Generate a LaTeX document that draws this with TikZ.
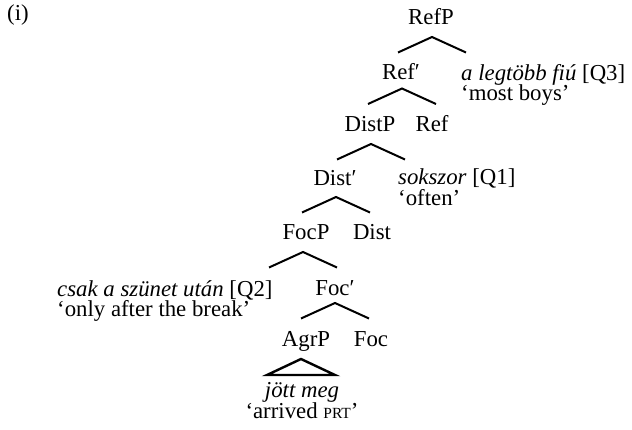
\documentclass[tikz,border=0pt]{standalone}
\usepackage{fontspec}
\setmainfont{Liberation Serif}
\usetikzlibrary{calc}
\tikzset{
  txt/.style={inner sep=0pt, font=\fontsize{22.8}{18}\selectfont},
  lbl/.style={txt, anchor=base},
  gloss/.style={txt, anchor=base west},
  branch/.style={line width=2pt},
  tri/.style={line width=2.4pt, line join=miter},
}
\newcommand{\smc}[1]{{\fontsize{15.5}{15.5}\selectfont #1}}
\begin{document}
\begin{tikzpicture}[x=1pt,y=-1pt]
\useasboundingbox[fill=white] (0,0) rectangle (632,430);
% labels
\node[gloss] (ex) at (7,21) {(i)};
\node[lbl] (refp) at (431,25) {RefP};
\node[lbl] (refbar) at (401,80) {Ref′};
\node[gloss] (q3) at (461,80.5) {\textit{a legtöbb fiú} [Q3]};
\node[gloss] (q3g) at (461,101) {‘most boys’};
\node[lbl] (distp) at (370,132) {DistP};
\node[lbl] (ref) at (432,132) {Ref};
\node[lbl] (distbar) at (335,185.5) {Dist′};
\node[gloss] (q1) at (398,185) {\textit{sokszor} [Q1]};
\node[gloss] (q1g) at (398,205.5) {‘often’};
\node[lbl] (focp) at (306,240) {FocP};
\node[lbl] (dist) at (372,240) {Dist};
\node[gloss] (q2) at (57,296.5) {\textit{csak a szünet után} [Q2]};
\node[gloss] (q2g) at (57,316.5) {‘only after the break’};
\node[lbl] (focbar) at (335,296) {Foc′};
\node[lbl] (agrp) at (306,346) {AgrP};
\node[lbl] (foc) at (371,346) {Foc};
\node[lbl] (vp) at (302,397.5) {\textit{jött meg}};
\node[lbl] (vpg) at (302,418) {‘arrived \smc{PRT}’};
% branch apexes
\coordinate (a1) at (432,37);
\coordinate (a2) at (402,88.5);
\coordinate (a3) at (371,144);
\coordinate (a4) at (336,197);
\coordinate (a5) at (303,252);
\coordinate (a6) at (335,303);
\coordinate (a7) at (301,359);
\foreach \a in {a1,a2,a3,a4,a5,a6}{
  \draw[branch] ($(\a)+(-34,15.5)$) -- (\a) -- ++(34,15.5);
}
\draw[tri] ($(a7)+(-34,16)$) -- (a7) -- ++(34,16) -- cycle;
\end{tikzpicture}
\end{document}
